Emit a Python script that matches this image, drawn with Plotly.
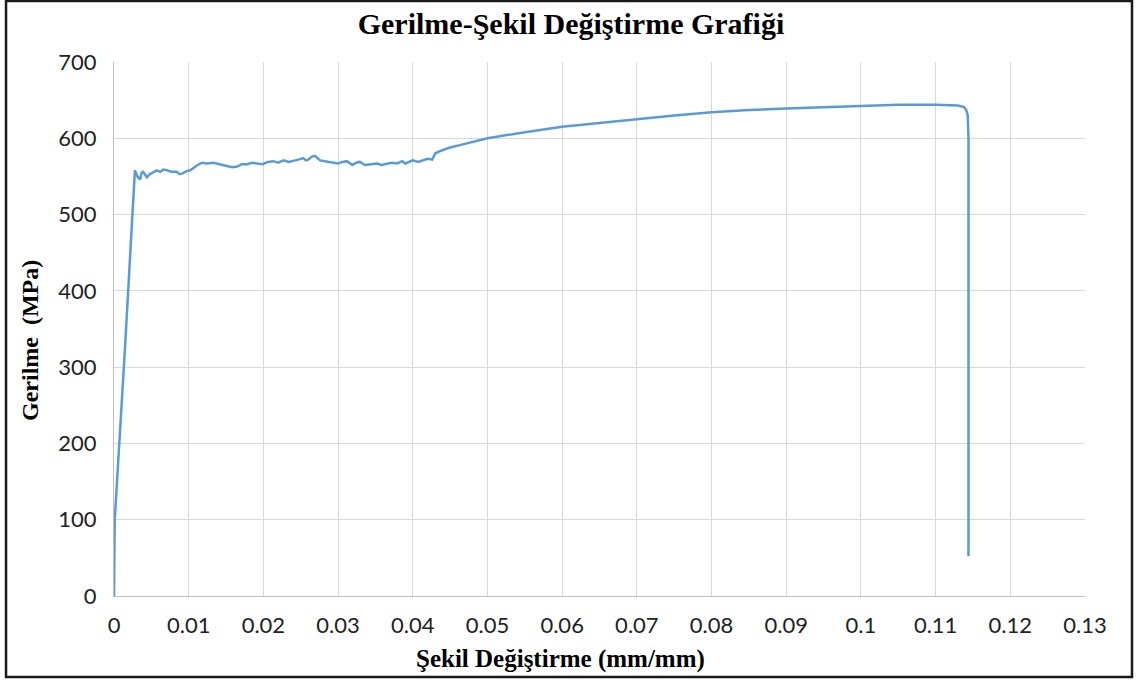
import plotly.graph_objects as go

# deformation (mm/mm) and stress (MPa)
sekil_degistirme = [
    0.0, 0.0001, 0.0015, 0.0028, 0.0030, 0.0032, 0.0035, 0.0037, 0.0039, 0.0042,
    0.0044, 0.0048, 0.0052, 0.0057, 0.0062, 0.0066, 0.0071, 0.0077, 0.0084, 0.0088,
    0.0092, 0.0097, 0.0102, 0.0107, 0.0112, 0.0118, 0.0124, 0.0133, 0.0142, 0.0150,
    0.0158, 0.0165, 0.0171, 0.0178, 0.0185, 0.0191, 0.0199, 0.0206, 0.0213, 0.0220,
    0.0227, 0.0234, 0.0240, 0.0247, 0.0253, 0.0257, 0.0260, 0.0265, 0.0269, 0.0276,
    0.0282, 0.0289, 0.0300, 0.0306, 0.0312, 0.0319, 0.0324, 0.0329, 0.0336, 0.0344,
    0.0352, 0.0358, 0.0365, 0.0372, 0.0379, 0.0386, 0.0390, 0.0394, 0.0400, 0.0407,
    0.0414, 0.0420, 0.0426, 0.0430, 0.0436, 0.0450, 0.0463, 0.0500, 0.0550, 0.0600,
    0.0650, 0.0700, 0.0750, 0.0800, 0.0850, 0.0900, 0.0950, 0.0995, 0.1005, 0.1050,
    0.1100, 0.1130, 0.1138, 0.1141, 0.1143, 0.1144, 0.1144, 0.1144,
]
gerilme = [
    0, 100, 330, 558, 553, 549, 546, 555, 556, 551,
    549, 553, 555, 558, 556, 559, 558, 556, 556, 553,
    554, 557, 558, 562, 565, 568, 567, 568, 566, 564,
    562, 563, 566, 566, 568, 567, 566, 569, 570, 568,
    571, 569, 570, 572, 574, 571, 572, 576, 577, 571,
    570, 569, 567, 569, 570, 565, 568, 569, 565, 566,
    567, 565, 566, 568, 567, 570, 567, 569, 571, 569,
    571, 573, 572, 580, 583, 588, 591, 600, 608, 615,
    620, 625, 630, 634, 637, 639, 641, 642, 643, 644,
    644, 643, 641, 637, 630, 600, 300, 52,
]

x_tickler = [round(i * 0.01, 2) for i in range(14)]
x_etiketler = ["0"] + [f"{v:g}" for v in x_tickler[1:]]

serif = "Liberation Serif, Times New Roman, serif"
sans = "Lato, Calibri, sans-serif"

fig = go.Figure()
fig.add_trace(go.Scatter(
    x=sekil_degistirme,
    y=gerilme,
    mode="lines",
    line=dict(color="#5B9BD5", width=2.5),
    showlegend=False,
))

fig.update_layout(
    width=1142,
    height=681,
    margin=dict(l=114, r=57, t=62, b=85),
    paper_bgcolor="white",
    plot_bgcolor="white",
    title=dict(
        text="<b>Gerilme-Şekil Değiştirme Grafiği</b>",
        x=0.5, xanchor="center",
        y=0.966, yanchor="middle",
        font=dict(family=serif, size=30, color="black"),
    ),
    xaxis=dict(
        range=[0, 0.13],
        tickvals=x_tickler,
        ticktext=x_etiketler,
        showgrid=True,
        gridcolor="#d9d9d9",
        gridwidth=1,
        showline=True,
        linecolor="#bfbfbf",
        linewidth=1,
        zeroline=False,
        ticks="",
        ticklabelstandoff=10,
        tickfont=dict(family=sans, size=22, color="#222222"),
    ),
    yaxis=dict(
        range=[0, 700],
        dtick=100,
        showgrid=True,
        gridcolor="#d9d9d9",
        gridwidth=1,
        showline=True,
        linecolor="#bfbfbf",
        linewidth=1,
        zeroline=False,
        ticks="",
        ticklabelstandoff=12,
        tickfont=dict(family=sans, size=22, color="#222222"),
    ),
    annotations=[
        dict(
            text="<b>Şekil Değiştirme (mm/mm)</b>",
            xref="paper", yref="paper",
            x=(560 - 114) / 971, y=-0.118,
            xanchor="center", yanchor="middle",
            showarrow=False,
            font=dict(family=serif, size=25, color="black"),
        ),
        dict(
            text="<b>Gerilme  (MPa)</b>",
            xref="paper", yref="paper",
            x=(30 - 114) / 971, y=(596 - 341) / 534,
            xanchor="center", yanchor="middle",
            textangle=-90,
            showarrow=False,
            font=dict(family=serif, size=24, color="black"),
        ),
    ],
)

# outer frame around the whole chart
fig.add_shape(
    type="rect", xref="paper", yref="paper",
    x0=-0.1112, x1=1.0484, y0=-0.1517, y1=1.1142,
    line=dict(color="#1a1a1a", width=2.5),
    fillcolor="rgba(0,0,0,0)",
    layer="above",
)

fig.write_html(
    "out.html",
    config={"displayModeBar": False},
    post_script="document.body.style.margin='0';",
)
